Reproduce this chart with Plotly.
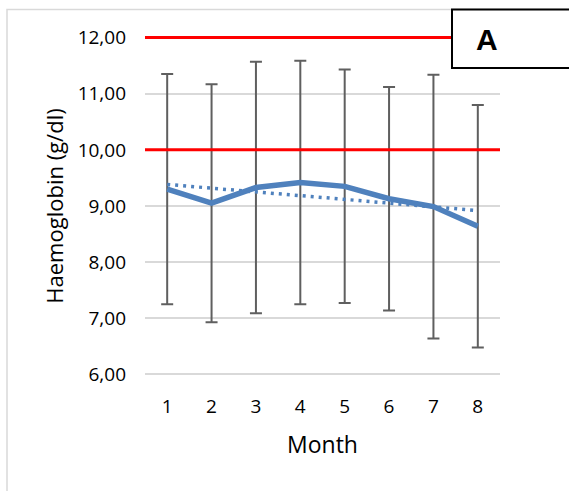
import numpy as np
import plotly.graph_objects as go

# Monthly haemoglobin: mean and standard deviation (g/dl)
months = [1, 2, 3, 4, 5, 6, 7, 8]
hb_mean = [9.30, 9.05, 9.33, 9.42, 9.35, 9.13, 8.99, 8.64]
hb_sd = [2.05, 2.12, 2.24, 2.17, 2.08, 1.99, 2.35, 2.16]
reference_limits = [10, 12]
y_ticks = [6, 7, 8, 9, 10, 11, 12]
panel_label = "A"

BLUE = "#4f81bd"
GRID = "#d9d9d9"
FONT = "Open Sans"

# Linear trend of the monthly means
slope, intercept = np.polyfit(months, hb_mean, 1)
trend = [slope * m + intercept for m in months]

W, H = 569, 491
L, R, T, B = 145, 69, 32, 111
pw, ph = W - L - R, H - T - B


def px_x(x):
    return (x - L) / pw


def px_y(y):
    return (H - B - y) / ph


fig = go.Figure()

# Error bars (mean ± SD), drawn beneath the lines
fig.add_trace(go.Scatter(
    x=months, y=hb_mean, mode="markers",
    marker=dict(size=1, color="rgba(0,0,0,0)"),
    error_y=dict(type="data", array=hb_sd, visible=True,
                 color="#5f5f5f", thickness=2, width=6),
    hoverinfo="skip", showlegend=False,
))

fig.add_trace(go.Scatter(
    x=months, y=trend, mode="lines",
    line=dict(color=BLUE, width=3.5, dash="3px,5px"),
    showlegend=False,
))

fig.add_trace(go.Scatter(
    x=months, y=hb_mean, mode="lines",
    line=dict(color=BLUE, width=5.5),
    showlegend=False,
))

shapes = []
for lim in reference_limits:
    shapes.append(dict(type="line", xref="paper", yref="y",
                       x0=0, x1=1, y0=lim, y1=lim,
                       line=dict(color="#ff0000", width=3), layer="above"))

# Chart frame
shapes.append(dict(type="rect", xref="paper", yref="paper",
                   x0=px_x(7), x1=px_x(580), y0=px_y(500), y1=px_y(9.5),
                   line=dict(color=GRID, width=1.5), fillcolor="rgba(0,0,0,0)",
                   layer="below"))
# Panel label box
shapes.append(dict(type="rect", xref="paper", yref="paper",
                   x0=px_x(452), x1=px_x(585), y0=px_y(68), y1=px_y(9.5),
                   line=dict(color="#000000", width=2), fillcolor="#ffffff",
                   layer="above"))

fig.update_layout(
    width=W, height=H,
    margin=dict(l=L, r=R, t=T, b=B),
    paper_bgcolor="white", plot_bgcolor="white",
    separators=", ",
    font=dict(family=FONT, color="#000000"),
    shapes=shapes,
    annotations=[dict(
        text=f"<b>{panel_label}</b>", xref="paper", yref="paper",
        x=px_x(487), y=px_y(40), showarrow=False,
        font=dict(family="Liberation Sans", size=30, color="#000000"),
        xanchor="center", yanchor="middle",
    )],
    xaxis=dict(
        range=[0.5, 8.5], tickvals=months, ticktext=[str(m) for m in months],
        showgrid=False, zeroline=False, showline=False, ticks="",
        tickfont=dict(size=19), ticklabelstandoff=13,
        title=dict(text="Month", font=dict(size=23), standoff=18),
    ),
    yaxis=dict(
        range=[5.9, 12.1], tickvals=y_ticks, tickformat=".2f",
        showgrid=True, gridcolor=GRID, gridwidth=1.5,
        zeroline=False, showline=False, ticks="",
        tickfont=dict(size=19), ticklabelstandoff=18,
        title=dict(text="Haemoglobin (g/dl)", font=dict(size=22), standoff=7),
    ),
)

fig.write_html("out.html")
